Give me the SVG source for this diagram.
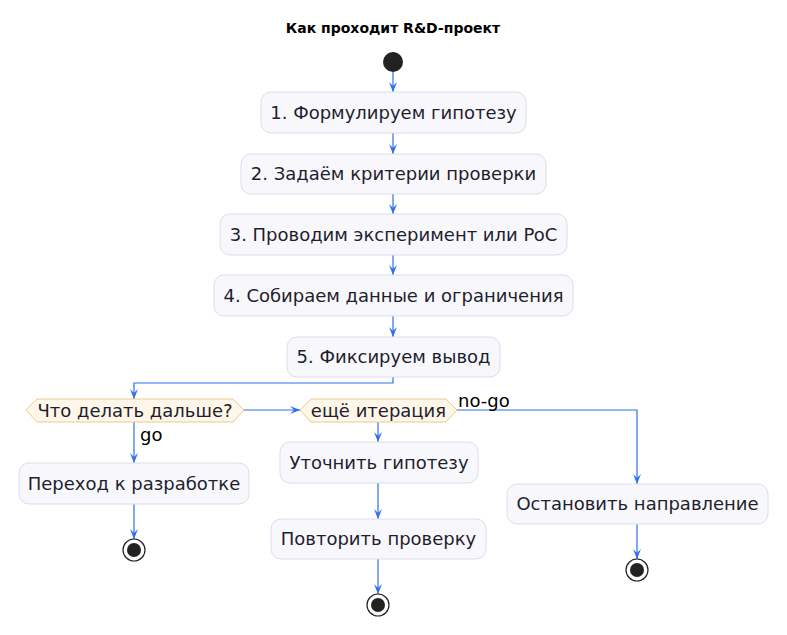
<svg xmlns="http://www.w3.org/2000/svg" width="787" height="635" viewBox="0 0 787 635">
<style>
.box{fill:#F8F8FC;stroke:#DCDCEC;stroke-width:1}
.dia{fill:#FEF6E8;stroke:#E9CC91;stroke-width:1}
.t{font-family:"DejaVu Sans",sans-serif;font-size:18px;fill:#1E1E2E;text-anchor:middle}
.lbl{font-family:"DejaVu Sans",sans-serif;font-size:18px;fill:#000}
.ln{fill:none;stroke:#2F6FEA;stroke-width:1.2;marker-end:url(#ah)}
.start{fill:#222}
.endo{fill:none;stroke:#222;stroke-width:1.2}
</style>
<defs>
<marker id="ah" viewBox="0 0 10 10" refX="10" refY="5" markerWidth="10" markerHeight="10" markerUnits="userSpaceOnUse" orient="auto">
<path d="M0,1 L10,5 L0,9 L4,5 Z" fill="#2F6FEA"/>
</marker>
</defs>
<rect width="787" height="635" fill="#fff"/>
<text x="393" y="33" font-family="DejaVu Sans,sans-serif" font-size="14" font-weight="bold" text-anchor="middle" fill="#000">Как проходит R&amp;D-проект</text>
<g id="connectors">
<path class="ln" d="M393,72 V92"/>
<path class="ln" d="M393,133 V154"/>
<path class="ln" d="M393,194 V214"/>
<path class="ln" d="M393,255 V275"/>
<path class="ln" d="M393,316 V337"/>
<path class="ln" d="M393,377 V383 H134 V399"/>
<path class="ln" d="M244,410 H300"/>
<path class="ln" d="M134,422 V463"/>
<path class="ln" d="M134,504 V539"/>
<path class="ln" d="M378,422 V442"/>
<path class="ln" d="M378,483 V519"/>
<path class="ln" d="M378,559 V594"/>
<path class="ln" d="M457,410 H637 V484"/>
<path class="ln" d="M637,524 V559"/>
<text class="lbl" x="140" y="441">go</text>
<text class="lbl" x="458" y="407">no-go</text>
</g>
<g id="start"><circle class="start" cx="393" cy="62" r="10"/></g>
<g id="n1"><rect class="box" x="261" y="92" width="265" height="41" rx="10"/><text class="t" x="393.5" y="119">1. Формулируем гипотезу</text></g>
<g id="n2"><rect class="box" x="241" y="154" width="305" height="40" rx="10"/><text class="t" x="393.5" y="180">2. Задаём критерии проверки</text></g>
<g id="n3"><rect class="box" x="220" y="214" width="347" height="41" rx="10"/><text class="t" x="393.5" y="241">3. Проводим эксперимент или PoC</text></g>
<g id="n4"><rect class="box" x="214" y="275" width="359" height="41" rx="10"/><text class="t" x="393.5" y="302">4. Собираем данные и ограничения</text></g>
<g id="n5"><rect class="box" x="287" y="337" width="213" height="40" rx="10"/><text class="t" x="393.5" y="363">5. Фиксируем вывод</text></g>
<g id="d1"><polygon class="dia" points="26,410 37,399 233,399 244,410 233,422 37,422"/><text class="t" x="135" y="416.5">Что делать дальше?</text></g>
<g id="d2"><polygon class="dia" points="300,410 311,399 446,399 457,410 446,422 311,422"/><text class="t" x="378.5" y="416.5">ещё итерация</text></g>
<g id="go"><rect class="box" x="19" y="463" width="230" height="41" rx="10"/><text class="t" x="134" y="490">Переход к разработке</text></g>
<g id="end1"><circle class="endo" cx="134" cy="550" r="11"/><circle class="start" cx="134" cy="550" r="7"/></g>
<g id="r1"><rect class="box" x="280" y="442" width="198" height="41" rx="10"/><text class="t" x="379" y="469">Уточнить гипотезу</text></g>
<g id="r2"><rect class="box" x="271" y="519" width="215" height="40" rx="10"/><text class="t" x="378.5" y="545">Повторить проверку</text></g>
<g id="end2"><circle class="endo" cx="378" cy="605" r="11"/><circle class="start" cx="378" cy="605" r="7"/></g>
<g id="stop"><rect class="box" x="507" y="484" width="261" height="40" rx="10"/><text class="t" x="637.5" y="510">Остановить направление</text></g>
<g id="end3"><circle class="endo" cx="637" cy="570" r="11"/><circle class="start" cx="637" cy="570" r="7"/></g>
</svg>
